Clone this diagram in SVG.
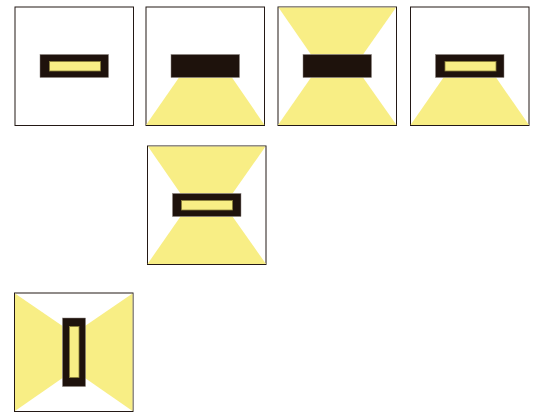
<svg xmlns="http://www.w3.org/2000/svg" width="539" height="412" viewBox="0 0 539 412">
<style>
.box{fill:#fff;stroke:#231815;stroke-width:1}
.beam{fill:#f8ee85}
.body{fill:#1e120c;stroke:#8c8480;stroke-width:.5}
.lamp{fill:#f8ee85;stroke:#8a7f3a;stroke-width:.8}
</style>
<rect width="539" height="412" fill="#fff"/>
<g id="panel-1">
<rect class="box" x="15" y="7" width="118.5" height="118.5"/>
<rect class="body" x="40" y="54.5" width="68.5" height="23"/>
<rect class="lamp" x="49.5" y="61.5" width="51" height="9.5"/>
</g>
<g id="panel-2">
<rect class="box" x="146" y="7" width="118.5" height="118.5"/>
<polygon class="beam" points="179,77.5 232,77.5 264.5,125 146,125"/>
<rect class="body" x="171" y="54.5" width="68.5" height="23"/>
</g>
<g id="panel-3">
<rect class="box" x="278" y="7" width="118.5" height="118.5"/>
<polygon class="beam" points="278.5,7.5 396,7.5 363,54.5 311,54.5"/>
<polygon class="beam" points="311,77.5 363,77.5 396.5,125 278,125"/>
<rect class="body" x="303" y="54.5" width="68.5" height="23"/>
</g>
<g id="panel-4">
<rect class="box" x="410.5" y="7" width="118.5" height="118.5"/>
<polygon class="beam" points="443.5,77.5 496,77.5 529,125 410.5,125"/>
<rect class="body" x="435.5" y="54.5" width="68.5" height="23"/>
<rect class="lamp" x="445" y="61.5" width="51" height="9.5"/>
</g>
<g id="panel-5">
<rect class="box" x="147.5" y="146" width="118.5" height="118.5"/>
<polygon class="beam" points="148,146.5 265.5,146.5 232.5,193.5 180.5,193.5"/>
<polygon class="beam" points="180.5,216.5 232.5,216.5 266,264 147.5,264"/>
<rect class="body" x="172.500" y="193.500" width="68.500" height="23"/>
<rect class="lamp" x="181.500" y="200.500" width="51" height="9.500"/>
</g>
<g id="panel-6">
<rect class="box" x="14.500" y="293" width="118.500" height="118.500"/>
<polygon class="beam" points="15,293.500 62.500,326 62.500,378 15,411"/>
<polygon class="beam" points="132.500,293.500 85,326 85,378 132.500,411"/>
<rect class="body" x="62.500" y="318" width="23" height="68.500"/>
<rect class="lamp" x="69.500" y="326.500" width="9.500" height="51"/>
</g>
</svg>
